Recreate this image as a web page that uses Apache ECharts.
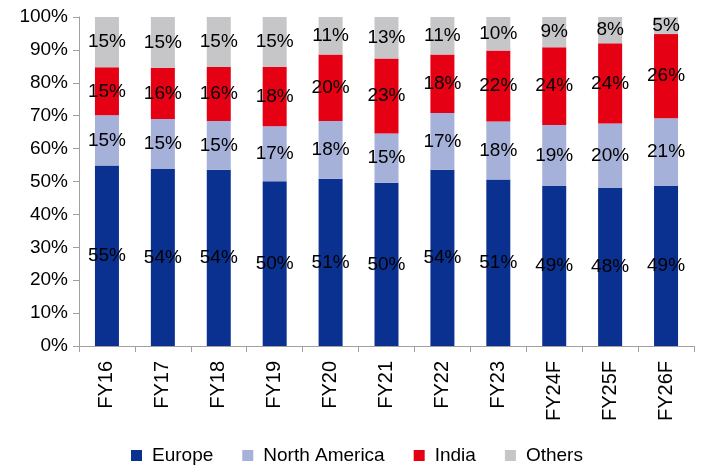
<!DOCTYPE html>
<html>
<head>
<meta charset="utf-8">
<script src="https://cdn.jsdelivr.net/npm/echarts@6/dist/echarts.min.js"></script>
<style>html,body{margin:0;padding:0;background:#fff}#c{width:702px;height:465px}</style>
</head>
<body>
<div id="c"></div>
<script>
var categories = ['FY16','FY17','FY18','FY19','FY20','FY21','FY22','FY23','FY24F','FY25F','FY26F'];
var europe       = [54.9, 53.8, 53.6, 50.1, 50.8, 49.6, 53.6, 50.6, 48.6, 48.0, 48.6];
var northAmerica = [15.2, 15.2, 14.8, 16.7, 17.6, 15.0, 17.2, 17.6, 18.6, 19.6, 20.6];
var india        = [14.6, 15.6, 16.4, 18.1, 20.2, 22.8, 17.8, 21.6, 23.6, 24.4, 25.6];
var others       = [15.3, 15.4, 15.2, 15.1, 11.4, 12.6, 11.4, 10.2, 9.2, 8.0, 5.2];
var yTicks = [0,10,20,30,40,50,60,70,80,90,100];

var chart = echarts.init(document.getElementById('c'), null, {renderer:'canvas'});
var font = 'Liberation Sans, Arial, sans-serif';
function mk(name, data, color) {
  return {
    name: name, type: 'bar', stack: 'all', data: data, barWidth: 24,
    itemStyle: {color: color},
    label: {show: true, position: 'inside', color: '#000', fontFamily: font, fontSize: 19,
      formatter: function(p){ return Math.round(p.value) + '%'; }},
    emphasis: {disabled: true}
  };
}
chart.setOption({
  animation: false,
  grid: {left: 79, right: 8, top: 17, bottom: 119},
  legend: {
    left: 126, top: 441, icon: 'rect', itemWidth: 11, itemHeight: 11, itemGap: 29,
    textStyle: {fontFamily: font, fontSize: 19, color: '#000', padding: [0,0,0,5]},
    data: ['Europe','North America','India','Others']
  },
  xAxis: {
    type: 'category', data: categories,
    axisLine: {lineStyle: {color: '#A0A0A0'}},
    axisTick: {show: true, length: 6, lineStyle: {color: '#A0A0A0'}},
    axisLabel: {rotate: 90, margin: 15, color: '#000', fontFamily: font, fontSize: 20}
  },
  yAxis: {
    type: 'value', min: yTicks[0], max: yTicks[yTicks.length-1], interval: 10,
    splitLine: {show: false},
    axisLine: {show: true, lineStyle: {color: '#A0A0A0'}},
    axisTick: {show: true, length: 6, lineStyle: {color: '#A0A0A0'}},
    axisLabel: {margin: 11, color: '#000', fontFamily: font, fontSize: 19, formatter: '{value}%'}
  },
  series: [
    mk('Europe', europe, '#0B3190'),
    mk('North America', northAmerica, '#A6B1D9'),
    mk('India', india, '#E60014'),
    mk('Others', others, '#C6C6C8')
  ]
});
</script>
</body>
</html>
